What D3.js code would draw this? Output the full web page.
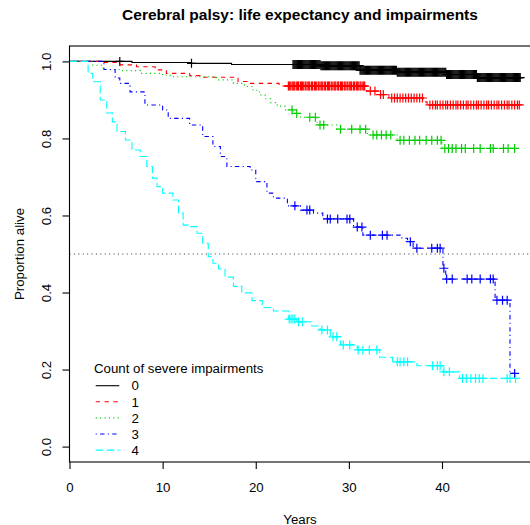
<!DOCTYPE html>
<html>
<head>
<meta charset="utf-8">
<script src="https://cdn.jsdelivr.net/npm/d3@7"></script>
<style>
  body { margin: 0; background: #fff; }
  svg { display: block; font-family: 'Liberation Sans', Arial, Helvetica, sans-serif; }
</style>
</head>
<body>
<svg class="chart"></svg>
<script>
// data: event times (years) and survival after each event, plus censoring times
var groupLabels = ['0', '1', '2', '3', '4'];

var time0 = [6.7, 13.0, 17.4, 27.0, 31.2, 35.2, 40.5, 43.8];
var surv0 = [0.997, 0.995, 0.992, 0.989, 0.977, 0.972, 0.966, 0.958];
var cens0 = [5.4, 13.1,
  24.0, 24.1, 24.2, 24.3, 24.4, 24.5, 24.6, 24.7, 24.8, 24.9,
  25.0, 25.1, 25.2, 25.3, 25.4, 25.5, 25.6, 25.7, 25.8, 25.9,
  26.0, 26.1, 26.2, 26.3, 26.4, 26.5, 26.6, 26.7, 26.8, 26.9,
  27.0, 27.1, 27.2, 27.3, 27.4, 27.5, 27.6, 27.7, 27.8, 27.9,
  28.0, 28.1, 28.2, 28.3, 28.4, 28.5, 28.6, 28.7, 28.8, 28.9,
  29.0, 29.1, 29.2, 29.3, 29.4, 29.5, 29.6, 29.7, 29.8, 29.9,
  30.0, 30.1, 30.2, 30.3, 30.4, 30.5, 30.6, 30.7, 30.8, 30.9,
  31.0, 31.1, 31.2, 31.3, 31.4, 31.5, 31.6, 31.7, 31.8, 31.9,
  32.0, 32.1, 32.2, 32.3, 32.4, 32.5, 32.6, 32.7, 32.8, 32.9,
  33.0, 33.1, 33.2, 33.3, 33.4, 33.5, 33.6, 33.7, 33.8, 33.9,
  34.0, 34.1, 34.2, 34.3, 34.4, 34.5, 34.6, 34.7, 34.8, 34.9,
  35.0, 35.1, 35.2, 35.3, 35.4, 35.5, 35.6, 35.7, 35.8, 35.9,
  36.0, 36.1, 36.2, 36.3, 36.4, 36.5, 36.6, 36.7, 36.8, 36.9,
  37.0, 37.1, 37.2, 37.3, 37.4, 37.5, 37.6, 37.7, 37.8, 37.9,
  38.0, 38.1, 38.2, 38.3, 38.4, 38.5, 38.6, 38.7, 38.8, 38.9,
  39.0, 39.1, 39.2, 39.3, 39.4, 39.5, 39.6, 39.7, 39.8, 39.9,
  40.0, 40.1, 40.2, 40.3, 40.4, 40.5, 40.6, 40.7, 40.8, 40.9,
  41.0, 41.1, 41.2, 41.3, 41.4, 41.5, 41.6, 41.7, 41.8, 41.9,
  42.0, 42.1, 42.2, 42.3, 42.4, 42.5, 42.6, 42.7, 42.8, 42.9,
  43.0, 43.1, 43.2, 43.3, 43.4, 43.5, 43.6, 43.7, 43.8, 43.9,
  44.0, 44.1, 44.2, 44.3, 44.4, 44.5, 44.6, 44.7, 44.8, 44.9,
  45.0, 45.1, 45.2, 45.3, 45.4, 45.5, 45.6, 45.7, 45.8, 45.9,
  46.0, 46.1, 46.2, 46.3, 46.4, 46.5, 46.6, 46.7, 46.8, 46.9,
  47.0, 47.1, 47.2, 47.3, 47.4, 47.5, 47.6, 47.7, 47.8, 47.9,
  48.0, 48.1, 48.2, 48.3, 48.4];

var time1 = [3.3, 5.4, 7.2, 9.2, 10.4, 12.9, 14.3, 18.1, 19.2, 22.5, 31.9, 33.2, 34.3, 38.0, 38.4];
var surv1 = [0.997, 0.991, 0.986, 0.978, 0.969, 0.963, 0.959, 0.948, 0.943, 0.936, 0.923, 0.914, 0.905, 0.895, 0.887];
var cens1 = [23.5, 23.6, 23.7, 23.9, 24.0, 24.1, 24.2, 24.4, 24.5, 24.6, 24.8, 24.9, 25.0, 25.1, 25.3, 25.4,
  25.6, 25.7, 25.8, 26.0, 26.1, 26.3, 26.4, 26.5, 26.7, 26.8, 27.0, 27.1, 27.2, 27.4, 27.5, 27.7, 27.8, 27.9,
  28.1, 28.2, 28.4, 28.5, 28.6, 28.8, 28.9, 29.1, 29.2, 29.3, 29.5, 29.6, 29.8, 29.9,
  30.1, 30.2, 30.3, 30.5, 30.6, 30.8, 30.9, 31.0, 31.2, 31.3, 31.5, 31.6, 31.7,
  32.3, 32.8, 33.4, 33.7, 34.6, 34.9, 35.2, 35.5, 35.8, 36.1, 36.4, 36.7, 37.0, 37.3, 37.6, 37.9,
  38.7, 39.0, 39.3, 39.5, 39.8, 40.1, 40.4, 40.6, 40.9, 41.2, 41.5, 41.7, 42.0, 42.3, 42.6, 42.8,
  43.1, 43.4, 43.7, 43.9, 44.2, 44.5, 44.8, 45.0, 45.3, 45.6, 45.9, 46.1, 46.4, 46.7,
  47.0, 47.2, 47.5, 47.8, 48.1, 48.3];

var time2 = [2.5, 3.6, 5.7, 7.6, 10.0, 10.8, 15.8, 17.6, 18.8, 19.7, 20.4, 21.0, 21.6, 22.3,
  23.2, 24.0, 24.8, 26.6, 28.7, 32.0, 35.2, 40.0];
var surv2 = [0.990, 0.979, 0.976, 0.969, 0.964, 0.960, 0.952, 0.943, 0.935, 0.925, 0.913, 0.903, 0.893, 0.884,
  0.874, 0.865, 0.855, 0.835, 0.824, 0.809, 0.795, 0.774];
var cens2 = [23.9, 24.4, 25.8, 26.4, 26.9, 27.3, 29.1, 30.3, 31.2, 31.8, 32.6, 33.0, 33.5, 34.0, 34.5,
  35.5, 35.9, 36.5, 37.1, 37.6, 38.3, 38.9, 39.5, 39.9, 40.3, 40.7, 41.1, 41.5, 42.1, 42.5,
  43.4, 44.1, 45.2, 45.5, 46.6, 47.1, 47.8];

var time3 = [3.7, 4.9, 5.4, 6.5, 8.1, 10.0, 10.6, 12.9, 14.3, 15.4, 16.2, 16.9, 19.4, 20.0, 21.2, 21.9,
  23.4, 24.8, 26.2, 27.2, 30.5, 31.5, 35.7, 36.3, 36.9, 40.1, 40.4, 45.7, 47.3];
var surv3 = [0.979, 0.957, 0.943, 0.921, 0.887, 0.874, 0.852, 0.835, 0.805, 0.779, 0.753, 0.727, 0.718, 0.688, 0.658, 0.645,
  0.625, 0.614, 0.606, 0.591, 0.570, 0.549, 0.541, 0.532, 0.515, 0.463, 0.435, 0.380, 0.190];
var cens3 = [24.2, 25.5, 25.8, 27.7, 28.0, 28.8, 29.8, 30.1, 30.9, 31.4, 32.3, 33.6, 34.1, 36.6, 37.3,
  38.9, 39.5, 39.8, 40.2, 40.5, 41.1, 42.7, 43.2, 44.1, 45.2, 45.5, 45.9, 46.5, 47.0, 47.8];

var time4 = [2.0, 2.5, 3.3, 4.0, 4.6, 5.1, 6.0, 6.7, 7.6, 8.3, 8.9, 9.4, 10.0, 11.1, 11.7, 12.2, 12.9, 13.7,
  14.3, 14.9, 15.4, 16.0, 16.7, 17.6, 18.5, 19.6, 20.7, 21.9, 23.5, 24.4, 26.0, 26.9, 28.0, 29.1,
  30.9, 33.3, 34.7, 37.3, 40.1, 41.9];
var surv4 = [0.969, 0.947, 0.900, 0.866, 0.843, 0.818, 0.796, 0.770, 0.753, 0.727, 0.697, 0.675, 0.658, 0.640, 0.606, 0.575, 0.571, 0.554,
  0.528, 0.493, 0.476, 0.461, 0.440, 0.416, 0.399, 0.379, 0.361, 0.352, 0.331, 0.324, 0.313, 0.303, 0.285, 0.264,
  0.251, 0.232, 0.220, 0.210, 0.194, 0.177];
var cens4 = [23.6, 23.8, 24.0, 24.2, 24.6, 25.0, 27.1, 27.7, 28.3, 28.7, 29.4, 30.1, 31.0, 31.5, 32.2, 33.0,
  35.2, 35.5, 35.9, 36.3, 39.0, 39.5, 39.8, 40.2, 40.8, 42.2, 42.6, 43.1, 43.6, 44.0, 44.4, 47.0, 47.3, 47.9];

var xTickValues = [0, 10, 20, 30, 40];
var yTickValues = [0, 0.2, 0.4, 0.6, 0.8, 1.0];

var times = [time0, time1, time2, time3, time4];
var survs = [surv0, surv1, surv2, surv3, surv4];
var censs = [cens0, cens1, cens2, cens3, cens4];

// styles (R palette and line types)
var colors = ['#000000', '#ff0000', '#00cd00', '#0000ff', '#00ffff'];
var dashes = [null, '4.4,4.4', '1.1,3.3', '1.1,3.3,4.4,3.3', '7.7,3.3'];

// chart
var width = 530;
var height = 525;
var box = {left: 69.5, right: 531.4, top: 46, bottom: 462};
var fontSize = 13.25;

var chart = d3.select('.chart')
    .attr('width', width)
    .attr('height', height)

var x = d3.scaleLinear()
    .domain([0, 49.6])
    .range([box.left, box.right])

var y = d3.scaleLinear()
    .domain([-0.04, 1.04])
    .range([box.bottom, box.top])

function survAt(ts, ss, t) {
  var s = 1;
  for (var i = 0; i < ts.length; i++) {
    if (ts[i] <= t) s = ss[i];
  }
  return s;
}

var plot = chart.append('g')

// reference line at median
plot.append('line')
    .attr('x1', box.left)
    .attr('x2', box.right)
    .attr('y1', y(0.5))
    .attr('y2', y(0.5))
    .attr('stroke', '#444')
    .attr('stroke-width', 1.1)
    .attr('stroke-dasharray', '1.1,3.3')

var line = d3.line()
    .x(function(d){return x(d[0])})
    .y(function(d){return y(d[1])})
    .curve(d3.curveStepAfter)

groupLabels.forEach(function(g, k) {
  var ts = times[k], ss = survs[k], cs = censs[k];
  var pts = [[0, 1]];
  ts.forEach(function(t, i){ pts.push([t, ss[i]]); });
  var tEnd = Math.max(ts[ts.length-1], cs[cs.length-1]);
  pts.push([tEnd, ss[ss.length-1]]);

  plot.append('path')
      .datum(pts)
      .attr('d', line)
      .attr('fill', 'none')
      .attr('stroke', colors[k])
      .attr('stroke-width', 1.1)
      .attr('stroke-dasharray', dashes[k])

  // censoring marks (+)
  var marks = plot.append('g')
      .attr('stroke', colors[k])
      .attr('stroke-width', 1.2)
  marks.selectAll('path')
      .data(cs)
    .enter().append('path')
      .attr('d', function(t){
        var cx = x(t), cy = y(survAt(ts, ss, t)), r = 4.5;
        return 'M' + (cx - r) + ',' + cy + 'H' + (cx + r) + 'M' + cx + ',' + (cy - r) + 'V' + (cy + r);
      })
})

// box
chart.append('rect')
    .attr('x', box.left)
    .attr('y', box.top)
    .attr('width', box.right - box.left)
    .attr('height', box.bottom - box.top)
    .attr('fill', 'none')
    .attr('stroke', '#000')
    .attr('stroke-width', 1.1)

// axes
var xAxis = d3.axisBottom(x)
    .tickValues(xTickValues)
    .tickSize(7)
    .tickPadding(10)
    .tickFormat(d3.format('d'))

var gx = chart.append('g')
    .attr('transform', 'translate(0,' + box.bottom + ')')
    .call(xAxis)
gx.select('.domain').remove()
gx.selectAll('line').attr('stroke-width', 1.1)
gx.selectAll('text')
    .attr('fill', '#000')
    .attr('y', 29.5)
    .attr('dy', null)
    .style('font-size', fontSize + 'px')
    .style('font-family', "'Liberation Sans', Arial, sans-serif")

var yAxis = d3.axisLeft(y)
    .tickValues(yTickValues)
    .tickSize(7)
    .tickFormat(d3.format('.1f'))

var gy = chart.append('g')
    .attr('transform', 'translate(' + box.left + ',0)')
    .call(yAxis)
gy.select('.domain').remove()
gy.selectAll('line').attr('stroke-width', 1.1)
gy.selectAll('text')
    .attr('fill', '#000')
    .attr('x', 0)
    .attr('y', -18.8)
    .attr('dy', null)
    .attr('text-anchor', 'middle')
    .attr('transform', 'rotate(-90)')
    .style('font-size', fontSize + 'px')
    .style('font-family', "'Liberation Sans', Arial, sans-serif")

// labels
chart.append('text')
    .attr('x', 300)
    .attr('y', 19.5)
    .attr('text-anchor', 'middle')
    .style('font-size', '15.5px')
    .style('font-weight', 'bold')
    .text('Cerebral palsy: life expectancy and impairments')

chart.append('text')
    .attr('x', 300)
    .attr('y', 523.5)
    .attr('text-anchor', 'middle')
    .style('font-size', fontSize + 'px')
    .text('Years')

chart.append('text')
    .attr('transform', 'translate(23.5,254) rotate(-90)')
    .attr('text-anchor', 'middle')
    .style('font-size', fontSize + 'px')
    .text('Proportion alive')

// legend
var legend = chart.append('g')
    .attr('transform', 'translate(94,0)')

legend.append('text')
    .attr('x', 0)
    .attr('y', 372.5)
    .style('font-size', fontSize + 'px')
    .text('Count of severe impairments')

var rows = legend.selectAll('.row')
    .data(groupLabels)
  .enter().append('g')
    .attr('class', 'row')
    .attr('transform', function(d, i){ return 'translate(0,' + (385.7 + i * 16.1) + ')'; })

rows.append('line')
    .attr('x1', 1.7)
    .attr('x2', 25.3)
    .attr('stroke', function(d, i){ return colors[i]; })
    .attr('stroke-width', 1.1)
    .attr('stroke-dasharray', function(d, i){ return dashes[i]; })

rows.append('text')
    .attr('x', 37.5)
    .attr('y', 4.7)
    .style('font-size', fontSize + 'px')
    .text(function(d){ return d; })
</script>
</body>
</html>
